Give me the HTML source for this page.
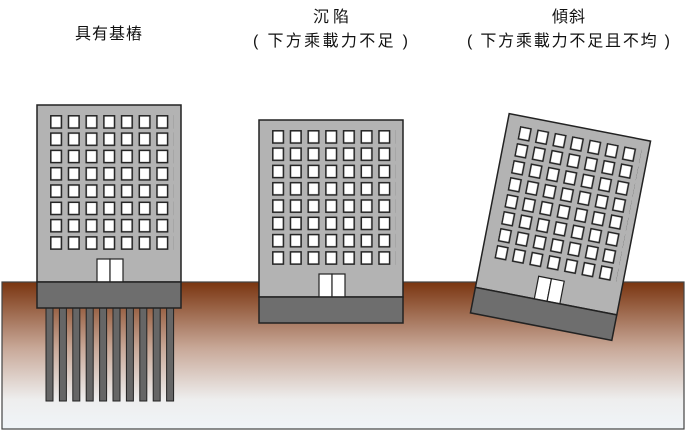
<!DOCTYPE html>
<html><head><meta charset="utf-8"><style>
html,body{margin:0;padding:0;background:#fff;}
svg{display:block;}
text{font-family:"Liberation Sans","Noto Sans CJK TC",sans-serif;font-size:16px;fill:#111;}
</style></head><body>
<svg width="692" height="432" viewBox="0 0 692 432" xmlns="http://www.w3.org/2000/svg">
<defs>
<linearGradient id="g" x1="0" y1="0" x2="0" y2="1">
<stop offset="0" stop-color="#7a3510"/>
<stop offset="0.45" stop-color="#c8a898"/>
<stop offset="0.8" stop-color="#eeeeee"/>
<stop offset="1" stop-color="#f0f4f8"/>
</linearGradient>
<pattern id="w" x="13" y="10" width="17.7" height="17.3" patternUnits="userSpaceOnUse">
<rect x="0.8" y="0.8" width="10.6" height="12.2" fill="#fff" stroke="#222" stroke-width="1.5"/>
</pattern>
<g id="b">
<rect x="0" y="0" width="144" height="177" fill="#b3b3b3" stroke="#222" stroke-width="1.5"/>
<rect x="13" y="10" width="124" height="136" fill="url(#w)"/>
<rect x="60" y="154" width="13" height="23" fill="#fff" stroke="#222" stroke-width="1.2"/>
<rect x="73" y="154" width="13" height="23" fill="#fff" stroke="#222" stroke-width="1.2"/>
<rect x="0" y="177" width="144" height="26" fill="#6e6e6e" stroke="#222" stroke-width="1.5"/>
</g>
</defs>
<rect x="2" y="282" width="682" height="147" fill="url(#g)" stroke="#444" stroke-width="1.2"/>
<g fill="#666" stroke="#222" stroke-width="1">
<rect x="46" y="308" width="7" height="93"/><rect x="59.4" y="308" width="7" height="93"/>
<rect x="72.8" y="308" width="7" height="93"/><rect x="86.2" y="308" width="7" height="93"/>
<rect x="99.6" y="308" width="7" height="93"/><rect x="113" y="308" width="7" height="93"/>
<rect x="126.4" y="308" width="7" height="93"/><rect x="139.8" y="308" width="7" height="93"/>
<rect x="153.2" y="308" width="7" height="93"/><rect x="166.6" y="308" width="7" height="93"/>
</g>
<use href="#b" x="37" y="105"/>
<use href="#b" x="259" y="120"/>
<g transform="translate(560.5,227) rotate(11) translate(-72,-101.5)"><use href="#b"/></g>
<text x="75" y="39" textLength="67" lengthAdjust="spacing">具有基樁</text>
<text x="313" y="22" textLength="36" lengthAdjust="spacing">沉陷</text>
<text x="253" y="46" textLength="155" lengthAdjust="spacing">( 下方乘載力不足 )</text>
<text x="552" y="22" textLength="33" lengthAdjust="spacing">傾斜</text>
<text x="467" y="46" textLength="203" lengthAdjust="spacing">( 下方乘載力不足且不均 )</text>
</svg>
</body></html>
